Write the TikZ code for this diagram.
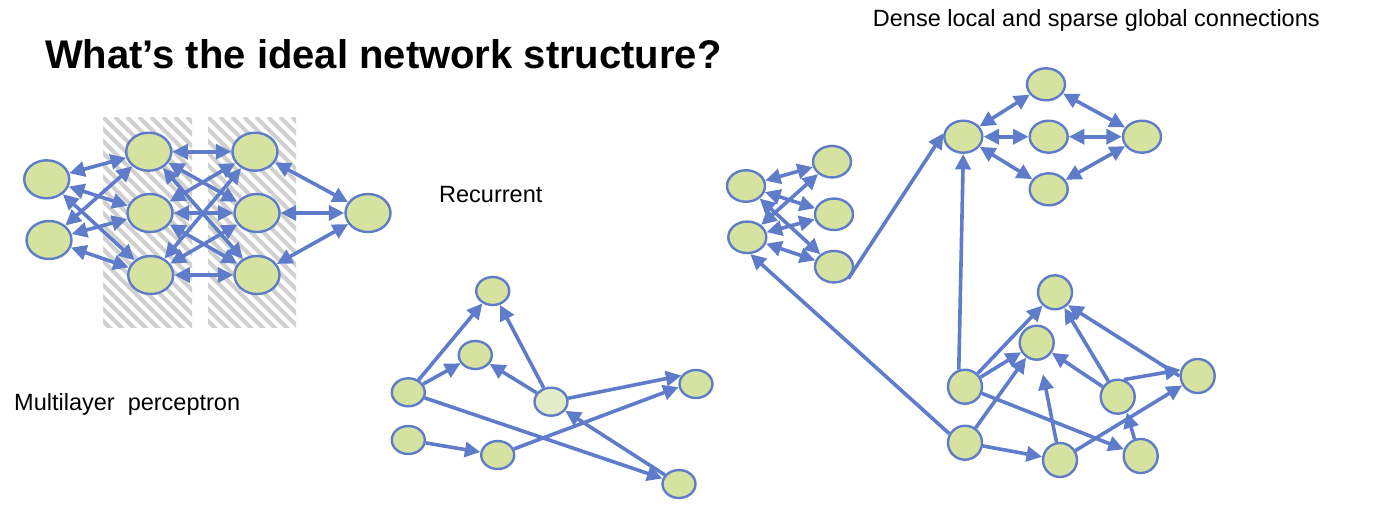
\documentclass[tikz,border=0pt]{standalone}
\usepackage{fontspec}
\setmainfont{Liberation Sans}
\usetikzlibrary{shapes.geometric,arrows.meta}
\definecolor{linkblue}{RGB}{94,124,202}
\definecolor{cellgreen}{RGB}{214,227,160}
\definecolor{cellpale}{RGB}{227,236,198}
\definecolor{hatchgray}{RGB}{208,208,208}
\tikzset{
  neuron/.style={ellipse, draw=linkblue, line width=2.4pt, fill=cellgreen, inner sep=0pt},
  mlpcell/.style={neuron, minimum width=45pt, minimum height=38pt},
  reccell/.style={neuron, minimum width=33pt, minimum height=28pt},
  loccell/.style={neuron, minimum width=38pt, minimum height=31.5pt},
  clucell/.style={neuron, minimum width=34pt, minimum height=34pt},
  tip/.tip={Triangle[length=15.5pt,width=15pt]},
  link/.style={draw=linkblue, line width=3.6pt, -tip},
  dlink/.style={draw=linkblue, line width=3.6pt, tip-tip},
  caption/.style={anchor=base west, inner sep=0pt, font=\fontsize{23.5}{27}\selectfont},
}
\begin{document}
\begin{tikzpicture}[x=1pt,y=-1pt]
\useasboundingbox (0,0) rectangle (1378,504);

% headings
\node[anchor=base west, inner sep=0pt, font=\fontsize{40}{44}\selectfont\bfseries] (title) at (45,68) {What’s the ideal network structure?};
\node[caption] (densecap) at (872.7,26.7) {Dense local and sparse global connections};
\node[caption] (reccap) at (439,202.7) {Recurrent};
\node[caption] (mlpcap) at (14,410) {Multilayer\ \ perceptron};

% hatched bands behind the hidden layers
\foreach \xa/\xb in {103/192, 208/296}{
  \begin{scope}
    \clip (\xa,117) rectangle (\xb,327);
    \foreach \k in {-20,...,10}
      \draw[hatchgray, line width=4.2pt] (\xa+\k*12,117) -- ++(215,215);
  \end{scope}
}

% multilayer perceptron
\node[mlpcell] (a1) at (46.7,179.3) {};
\node[mlpcell] (a2) at (49,240) {};
\node[mlpcell] (b1) at (148.7,151.7) {};
\node[mlpcell] (b2) at (150,213) {};
\node[mlpcell] (b3) at (150.7,275) {};
\node[mlpcell] (c1) at (255,151.7) {};
\node[mlpcell] (c2) at (257,213) {};
\node[mlpcell] (c3) at (257,275) {};
\node[mlpcell] (d1) at (368,213) {};
\foreach \s in {a1,a2}
  \foreach \t in {b1,b2,b3}
    \draw[dlink] (\s) -- (\t);
\foreach \s in {b1,b2,b3}
  \foreach \t in {c1,c2,c3}
    \draw[dlink] (\s) -- (\t);
\foreach \s in {c1,c2,c3}
  \draw[dlink] (\s) -- (d1);

% recurrent network
\node[reccell] (r1) at (492.7,291) {};
\node[reccell] (r2) at (475.3,355) {};
\node[reccell] (r3) at (408.3,392.3) {};
\node[reccell, fill=cellpale] (r4) at (551,401.7) {};
\node[reccell] (r5) at (696,384) {};
\node[reccell] (r6) at (408.3,440) {};
\node[reccell] (r7) at (497.7,455) {};
\node[reccell] (r8) at (679,484) {};
\draw[link] (r3) -- (r1);
\draw[link] (r3) -- (r2);
\draw[link] (r3) -- (r8);
\draw[link] (r4) -- (r1);
\draw[link] (r4) -- (r2);
\draw[link] (r4) -- (r5.150);
\draw[link] (r6) -- (r7);
\draw[link] (r7) -- (r5.190);
\draw[link] (r8) -- (r4);

% dense local module, left
\node[loccell] (g1) at (746,186) {};
\node[loccell] (g2) at (747.3,237.3) {};
\node[loccell] (g3) at (832,161.7) {};
\node[loccell] (g4) at (834,214.3) {};
\node[loccell] (g5) at (834,266.7) {};
\foreach \s in {g1,g2}
  \foreach \t in {g3,g4,g5}
    \draw[dlink] (\s) -- (\t);

% dense local module, top right
\node[loccell, minimum height=32pt] (h1) at (963.3,136.7) {};
\node[loccell, minimum height=32pt] (h2) at (1046,84.3) {};
\node[loccell, minimum height=32pt] (h3) at (1048.7,136.7) {};
\node[loccell, minimum height=32pt] (h4) at (1048.7,189.3) {};
\node[loccell, minimum height=32pt] (h5) at (1142,136.7) {};
\foreach \t in {h2,h3,h4}{
  \draw[dlink] (h1) -- (\t);
  \draw[dlink] (\t) -- (h5);
}

% sparse module, bottom right
\node[clucell] (k1) at (965,386.7) {};
\node[clucell] (k2) at (965,442.7) {};
\node[clucell] (k3) at (1055,292.3) {};
\node[clucell] (k4) at (1036.7,342.7) {};
\node[clucell] (k5) at (1060,460) {};
\node[clucell] (k6) at (1117.7,396.7) {};
\node[clucell] (k7) at (1140.7,456) {};
\node[clucell] (k8) at (1197.7,376) {};
\draw[link] (k1) -- (k3);
\draw[link] (k1) -- (k4);
\draw[link] (k1) -- (k7);
\draw[link] (k2) -- (k4);
\draw[link] (k2) -- (k5);
\draw[link, shorten >=14pt] (k5) -- (k4);
\draw[link] (k5) -- (k8);
\draw[link] (k6) -- (k3);
\draw[link] (k6) -- (k4);
\draw[link] (k6.70) -- (k8.160);
\draw[link] (k8.west) -- (k3.-45);
\draw[link] (k7.110) -- (k6.-60);

% sparse global links between modules
\draw[link] (g5.-40) -- (h1.170);
\draw[link] (k1.110) -- (h1.south);
\draw[link] (k2.150) -- (g2.-80);
\end{tikzpicture}
\end{document}
